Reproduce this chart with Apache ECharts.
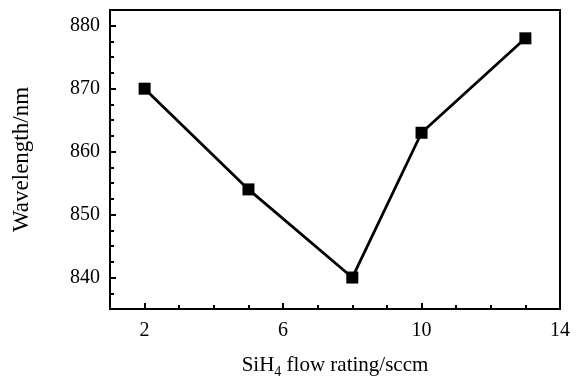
<!DOCTYPE html>
<html>
<head>
<meta charset="utf-8">
<script src="https://cdn.jsdelivr.net/npm/echarts@6/dist/echarts.min.js"></script>
<style>
  html, body { margin: 0; padding: 0; background: #fff; }
  #chart { width: 578px; height: 376px; }
</style>
</head>
<body>
<div id="chart"></div>
<script>
// SiH4 flow rate vs. emission wavelength
const flowRates = [2, 5, 8, 10, 13];
const wavelengths = [870, 854, 840, 863, 878];

const xMajorTicks = [2, 6, 10, 14];
const xMinorTicks = [2, 3, 4, 5, 6, 7, 8, 9, 10, 11, 12, 13];
const yMajorTicks = [840, 850, 860, 870, 880];
const yMinorTicks = [837.5, 842.5, 845, 847.5, 852.5, 855, 857.5, 862.5, 865, 867.5, 872.5, 875, 877.5];

const X_MIN = 1, X_MAX = 14;
const Y_MIN = 835, Y_MAX = 882.5;

const FONT = 'Liberation Serif';
const black = '#000';

const chart = echarts.init(document.getElementById('chart'), null, { renderer: 'canvas' });

chart.setOption({
  animation: false,
  backgroundColor: '#fff',
  grid: {
    left: 110, right: 18, top: 10, bottom: 67,
    outerBoundsMode: 'none', containLabel: false,
    show: true, borderColor: black, borderWidth: 2, backgroundColor: 'transparent'
  },
  xAxis: [
    {
      type: 'value', min: X_MIN, max: X_MAX,
      name: '{a|SiH}{s|4}{a| flow rating/sccm}',
      nameLocation: 'middle', nameGap: 42,
      nameTextStyle: {
        rich: {
          a: { fontFamily: FONT, fontSize: 21, color: black },
          s: { fontFamily: FONT, fontSize: 14, color: black, padding: [14, 0, 0, 0] }
        }
      },
      axisLine: { show: true, lineStyle: { color: black, width: 2 } },
      axisTick: { show: true, inside: true, length: 6, customValues: xMajorTicks, lineStyle: { color: black, width: 2 } },
      axisLabel: { customValues: xMajorTicks, margin: 12, fontFamily: FONT, fontSize: 20, color: black },
      splitLine: { show: false }
    },
    {
      type: 'value', min: X_MIN, max: X_MAX, position: 'bottom',
      axisLine: { show: false },
      axisTick: { show: true, inside: true, length: 4, customValues: xMinorTicks, lineStyle: { color: black, width: 2 } },
      axisLabel: { show: false },
      splitLine: { show: false }
    }
  ],
  yAxis: [
    {
      type: 'value', min: Y_MIN, max: Y_MAX,
      name: 'Wavelength/nm',
      nameLocation: 'middle', nameGap: 77,
      nameTextStyle: { fontFamily: FONT, fontSize: 23, color: black },
      axisLine: { show: true, lineStyle: { color: black, width: 2 } },
      axisTick: { show: true, inside: true, length: 6, customValues: yMajorTicks, lineStyle: { color: black, width: 2 } },
      axisLabel: { customValues: yMajorTicks, margin: 10, fontFamily: FONT, fontSize: 20, color: black },
      splitLine: { show: false }
    },
    {
      type: 'value', min: Y_MIN, max: Y_MAX, position: 'left',
      axisLine: { show: false },
      axisTick: { show: true, inside: true, length: 4, customValues: yMinorTicks, lineStyle: { color: black, width: 2 } },
      axisLabel: { show: false },
      splitLine: { show: false }
    }
  ],
  series: [{
    type: 'line',
    xAxisIndex: 0, yAxisIndex: 0,
    data: flowRates.map((x, i) => [x, wavelengths[i]]),
    symbol: 'rect', symbolSize: 12,
    lineStyle: { color: black, width: 2.8 },
    itemStyle: { color: black },
    z: 5
  }]
});
</script>
</body>
</html>
